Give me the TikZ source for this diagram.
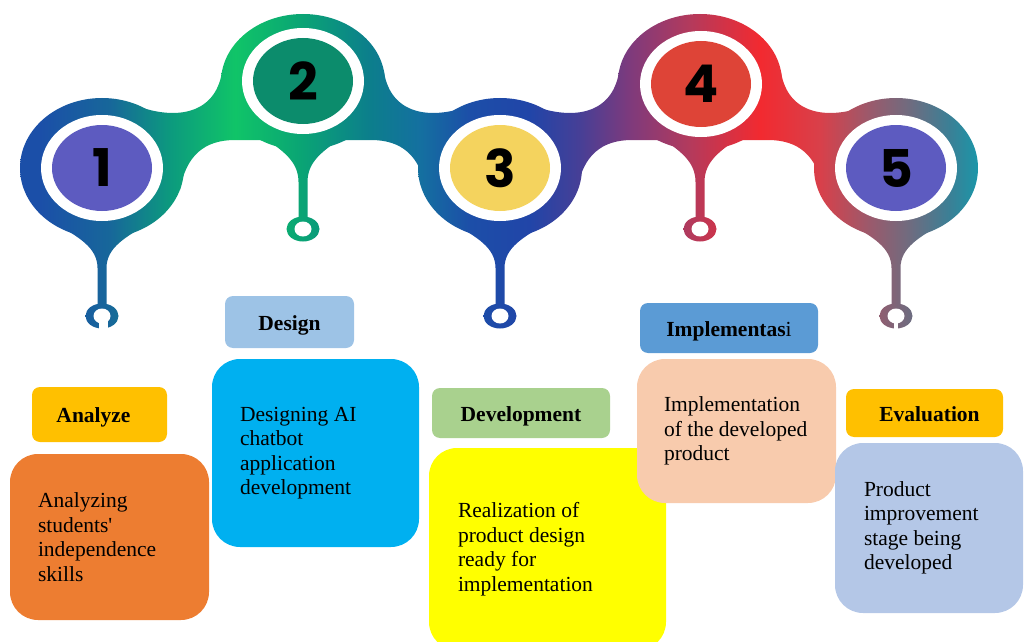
\documentclass[tikz,border=0pt]{standalone}
\usepackage{fontspec}
\setmainfont{Liberation Serif}
\newfontfamily\digitfont{Poppins}
\usetikzlibrary{positioning}

% colours of the ribbon, left to right
\definecolor{rb00}{HTML}{1C4FA8}
\definecolor{rb01}{HTML}{1B4FA8}
\definecolor{rb02}{HTML}{17679A}
\definecolor{rb03}{HTML}{0C9A7E}
\definecolor{rb04}{HTML}{10C468}
\definecolor{rb05}{HTML}{0AA574}
\definecolor{rb06}{HTML}{0C7E8C}
\definecolor{rb07}{HTML}{1470A0}
\definecolor{rb08}{HTML}{1C4EA8}
\definecolor{rb09}{HTML}{2145A8}
\definecolor{rb10}{HTML}{473F96}
\definecolor{rb11}{HTML}{7E3A7C}
\definecolor{rb12}{HTML}{B43A5C}
\definecolor{rb13}{HTML}{F22A30}
\definecolor{rb14}{HTML}{D8404A}
\definecolor{rb15}{HTML}{9A5A6C}
\definecolor{rb16}{HTML}{6E6C80}
\definecolor{rb17}{HTML}{3A8096}
\definecolor{rb18}{HTML}{1898AA}
\pgfdeclarehorizontalshading{ribbonfill}{100bp}{%
  color(0bp)=(rb00); color(25bp)=(rb00); color(26.94bp)=(rb01);
  color(30.35bp)=(rb02); color(33.26bp)=(rb03); color(36.42bp)=(rb04);
  color(39.58bp)=(rb05); color(42.98bp)=(rb06); color(45.41bp)=(rb07);
  color(47.84bp)=(rb08); color(50.75bp)=(rb09); color(53.18bp)=(rb10);
  color(55.61bp)=(rb11); color(58.53bp)=(rb12); color(61.93bp)=(rb13);
  color(64.85bp)=(rb14); color(67.27bp)=(rb15); color(69.22bp)=(rb16);
  color(71.16bp)=(rb17); color(72.62bp)=(rb18); color(75bp)=(rb18);
  color(100bp)=(rb18)}

% circles
\definecolor{stepblue}{HTML}{5D5BC0}
\definecolor{stepgreen}{HTML}{0C8C6C}
\definecolor{stepyellow}{HTML}{F4D35E}
\definecolor{stepred}{HTML}{DE4437}
% boxes
\definecolor{tagorange}{HTML}{FFC000}
\definecolor{tagblue}{HTML}{9DC3E6}
\definecolor{taggreen}{HTML}{A9D18E}
\definecolor{tagsteel}{HTML}{5B9BD5}
\definecolor{bodyorange}{HTML}{ED7D31}
\definecolor{bodycyan}{HTML}{00B0F0}
\definecolor{bodyyellow}{HTML}{FFFF00}
\definecolor{bodypeach}{HTML}{F8CBAD}
\definecolor{bodylavender}{HTML}{B4C7E7}

\tikzset{%
  % every piece of the ribbon shows its own part of one gradient
        ribbon/.style = {path picture={\shade[shading=ribbonfill] (0,0) rectangle (1029,642);}},
      stagetag/.style = {rectangle, rounded corners=8pt, inner sep=0pt,
                         font=\bfseries\fontsize{21.5}{24.5}\selectfont,
                         text height=16pt, text depth=0pt},
     stagebody/.style = {rectangle, rounded corners=28pt, inner sep=0pt},
     stagetext/.style = {align=left, inner sep=0pt,
                         font=\fontsize{21.5}{24.5}\selectfont},
       stepnum/.style = {inner sep=0pt, font=\digitfont\bfseries\fontsize{52}{52}\selectfont},
}

% one side of a raised arch: #1 = x of the top blob, #2 = 1 left / -1 right
\newcommand\archside[2]{%
  \path[ribbon] ({#1-199*(#2)},168) -- ({#1-166*(#2)},106)
    .. controls ({#1-128*(#2)},120) and ({#1-88*(#2)},115) .. ({#1-81*(#2)},72)
    -- (#1,82) -- (#1,140) -- ({#1-68*(#2)},140)
    .. controls ({#1-98*(#2)},140) and ({#1-117*(#2)},155) .. ({#1-123*(#2)},190) -- cycle;}

% hanging drop with its ring: #1 = x, #2 = top, #3 = half width, #4 = ring y
\newcommand\drop[4]{%
  \path[ribbon] ({#1-#3},#2) .. controls ({#1-#3*0.45},{#2+15}) and ({#1-4.5},{#2+26}) .. ({#1-4.5},{#2+46})
    -- ({#1-4.5},#4) -- ({#1+4.5},#4) -- ({#1+4.5},{#2+46})
    .. controls ({#1+4.5},{#2+26}) and ({#1+#3*0.45},{#2+15}) .. ({#1+#3},#2) -- cycle;
  \path[ribbon] (#1,#4) ellipse [x radius=16.5, y radius=12.5];
  \fill[white] (#1,#4) ellipse [x radius=8.5, y radius=7.5];}

\begin{document}
\begin{tikzpicture}[x=1pt, y=-1pt]
  \useasboundingbox (0,0) rectangle (1029,642);

  % ribbon
  \path[ribbon] (102,168) ellipse [x radius=82, y radius=70];
  \path[ribbon] (303,82) ellipse [x radius=82, y radius=68];
  \path[ribbon] (500,168) ellipse [x radius=82, y radius=70];
  \path[ribbon] (700,82) ellipse [x radius=82, y radius=68];
  \path[ribbon] (896,168) ellipse [x radius=82, y radius=70];
  \archside{303}{1}
  \archside{303}{-1}
  \archside{700}{1}
  \archside{700}{-1}
  \drop{102}{222}{50}{316}
  \drop{303}{136}{42}{229}
  \drop{500}{222}{50}{316}
  \drop{700}{136}{42}{229}
  \drop{896}{222}{50}{316}
  \fill[white] (98.5,319) rectangle (107.5,331);
  \fill[white] (894,322) rectangle (898,331);

  % numbered circles
  \foreach \x/\y/\c/\n in {102/168/stepblue/1, 303/81/stepgreen/2,
                           500/168/stepyellow/3, 701/84/stepred/4, 896/168/stepblue/5} {
    \fill[white] (\x,\y) ellipse [x radius=61, y radius=53];
    \fill[\c] (\x,\y) ellipse [x radius=50, y radius=43];
    \node (num\n) [stepnum] at (\x,\y) {\n};
  }

  % stage boxes
  \node (analyzeTag)   [stagetag, fill=tagorange, minimum width=135pt, minimum height=55pt] at (99.5,414.5) {Analyze\kern12pt};
  \node (analyzeBody)  [stagebody, fill=bodyorange, minimum width=199pt, minimum height=166pt] at (109.5,537) {};
  \node (analyzeText)  [stagetext, right=28pt of analyzeBody.west] {Analyzing\\students\textquotesingle\\independence\\skills};

  \node (designTag)    [stagetag, fill=tagblue, minimum width=129pt, minimum height=52pt] at (289.5,322) {Design};
  \node (designBody)   [stagebody, fill=bodycyan, minimum width=207pt, minimum height=188pt] at (315.5,453) {};
  \node (designText)   [stagetext, right=28pt of designBody.west] {Designing AI\\chatbot\\application\\development};

  \node (developTag)   [stagetag, fill=taggreen, minimum width=178pt, minimum height=50pt] at (521,413) {Development};
  \node (developBody)  [stagebody, fill=bodyyellow, minimum width=237pt, minimum height=202pt] at (547.5,549) {};
  \node (developText)  [stagetext, right=29pt of developBody.west] {Realization of\\product design\\ready for\\implementation};

  \node (implementTag) [stagetag, fill=tagsteel, minimum width=178pt, minimum height=50pt] at (729,328) {Implementas\textmd{i}};
  \node (implementBody)[stagebody, fill=bodypeach, minimum width=199pt, minimum height=144pt] at (736.5,431) {};
  \node (implementText)[stagetext, right=27pt of implementBody.west] {Implementation\\of the developed\\product};

  \node (evaluateTag)  [stagetag, fill=tagorange, minimum width=157pt, minimum height=48pt] at (924.5,413) {\hspace{10pt}Evaluation};
  \node (evaluateBody) [stagebody, fill=bodylavender, minimum width=188pt, minimum height=170pt] at (929,528) {};
  \node (evaluateText) [stagetext, right=29pt of evaluateBody.west] {Product\\improvement\\stage being\\developed};
\end{tikzpicture}
\end{document}
